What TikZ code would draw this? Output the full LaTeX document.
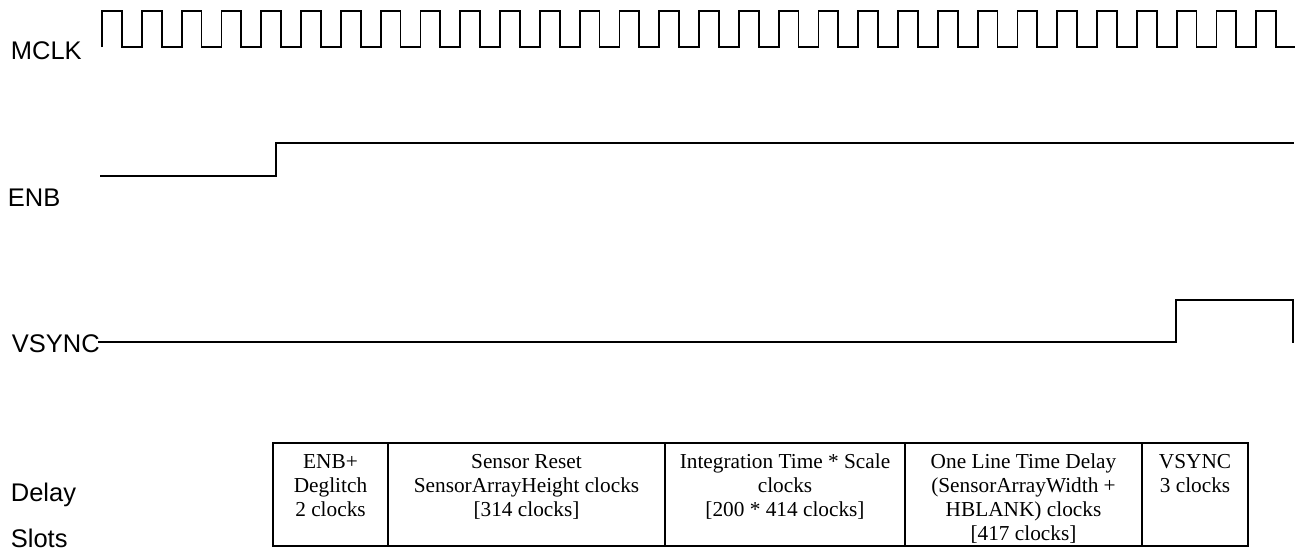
\documentclass[tikz,border=0pt]{standalone}
\usepackage{fontspec}
\setmainfont{Liberation Serif}
\setsansfont{Liberation Sans}
\usetikzlibrary{positioning}
\newcommand{\sigfont}{\sffamily\fontsize{25.5}{30}\selectfont}
\newcommand{\slotfont}{\fontsize{21.3}{24}\selectfont}

\begin{document}
\begin{tikzpicture}[x=1pt,y=-1pt,line width=1.8pt,
                    signame/.style={font=\sigfont,anchor=base west,inner sep=0pt},
                    slot/.style={draw,minimum height=103pt,inner sep=0pt,outer sep=0pt},
                    slottext/.style={font=\slotfont,anchor=base,inner sep=0pt}]
  \useasboundingbox (0,0) rectangle (1295,550);

  % signal names
  \node[signame] (mclk)  at (10,59)  {MCLK};
  \node[signame] (enb)   at (7,206)  {ENB};
  \node[signame] (vsync) at (11,352) {VSYNC};
  \node[signame] (delay) at (10,501) {Delay};
  \node[signame] (slots) at (10,547) {Slots};

  % waveforms
  \draw (102,47) \foreach \k in {1,...,30} { -- ++(0,-36) -- ++(19.9,0) -- ++(0,36) -- ++(19.9,0) };
  \draw (100,176) -- (276,176) -- (276,143) -- (1294,143);
  \draw (98,342) -- (1176,342) -- (1176,300) -- (1293,300) -- (1293,343);

  % delay slots
  \node[slot,minimum width=115pt,anchor=north west] (s1) at (273,443) {};
  \node[slot,minimum width=277pt,right=0pt of s1] (s2) {};
  \node[slot,minimum width=240pt,right=0pt of s2] (s3) {};
  \node[slot,minimum width=237pt,right=0pt of s3] (s4) {};
  \node[slot,minimum width=106pt,right=0pt of s4] (s5) {};

  \node[slottext] (t1) at ([yshift=-25pt]s1.north) {\begin{tabular}[t]{@{}c@{}}ENB+\\Deglitch\\2 clocks\end{tabular}};
  \node[slottext] (t2) at ([yshift=-25pt]s2.north) {\begin{tabular}[t]{@{}c@{}}Sensor Reset\\SensorArrayHeight clocks\\{}[314 clocks]\end{tabular}};
  \node[slottext] (t3) at ([yshift=-25pt]s3.north) {\begin{tabular}[t]{@{}c@{}}Integration Time * Scale\\clocks\\{}[200 * 414 clocks]\end{tabular}};
  \node[slottext] (t4) at ([yshift=-25pt]s4.north) {\begin{tabular}[t]{@{}c@{}}One Line Time Delay\\(SensorArrayWidth +\\HBLANK) clocks\\{}[417 clocks]\end{tabular}};
  \node[slottext] (t5) at ([yshift=-25pt]s5.north) {\begin{tabular}[t]{@{}c@{}}VSYNC\\3 clocks\end{tabular}};
\end{tikzpicture}
\end{document}
